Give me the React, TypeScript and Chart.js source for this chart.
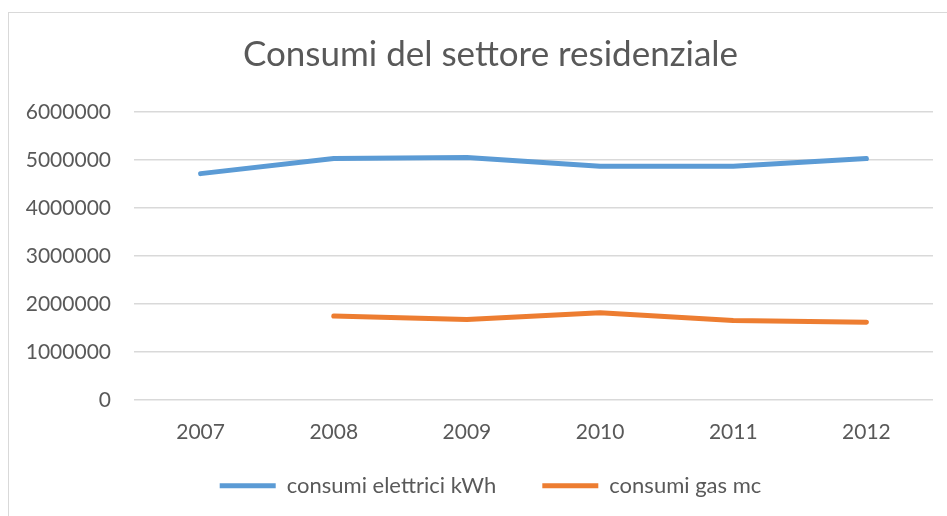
import React, { useEffect, useRef } from "react";
import { Chart, registerables } from "chart.js";

Chart.register(...registerables);

const years = ["2007", "2008", "2009", "2010", "2011", "2012"];
const elettrici = [4715000, 5030000, 5050000, 4870000, 4870000, 5030000];
const gas = [null, 1745000, 1675000, 1815000, 1655000, 1615000];
const yTicksMax = 6000000;
const yStep = 1000000;

const FONT = "Lato, 'Noto Sans', sans-serif";
const TEXT = "#595959";
const LEGEND_PAD = 46;
const LEGEND_CENTER_Y = 475;

const legendShift = {
  id: "legendShift",
  afterLayout(chart: any) {
    const L = chart.legend;
    if (!L) return;
    const fs = L.options.labels.font?.size || 22;
    const itemH = Math.max(fs * 1.2, 5);
    const h = L.height;
    L.top = LEGEND_CENTER_Y - LEGEND_PAD - itemH / 2;
    L.bottom = L.top + h;
  },
};

export default function App() {
  const ref = useRef<HTMLCanvasElement | null>(null);
  useEffect(() => {
    const ctx = ref.current!;
    const chart = new Chart(ctx, {
      type: "line",
      data: {
        labels: years,
        datasets: [
          {
            label: "consumi elettrici kWh",
            data: elettrici,
            borderColor: "#5B9BD5",
            backgroundColor: "#5B9BD5",
            borderWidth: 5,
            borderCapStyle: "round",
            borderJoinStyle: "round",
            pointRadius: 0,
            pointStyle: "line",
            tension: 0,
          },
          {
            label: "consumi gas mc",
            data: gas,
            borderColor: "#ED7D31",
            backgroundColor: "#ED7D31",
            borderWidth: 5,
            borderCapStyle: "round",
            borderJoinStyle: "round",
            pointRadius: 0,
            pointStyle: "line",
            tension: 0,
          },
        ],
      },
      plugins: [legendShift],
      options: {
        responsive: false,
        animation: false,
        layout: { padding: { left: 0, right: 0, top: 13, bottom: 0 } },
        plugins: {
          title: {
            display: true,
            text: "Consumi del settore residenziale",
            color: TEXT,
            font: { family: FONT, size: 35, weight: "normal" },
            padding: { top: 8, bottom: 36 },
          },
          legend: {
            position: "bottom",
            labels: {
              color: TEXT,
              font: { family: FONT, size: 22 },
              usePointStyle: true,
              pointStyle: "line",
              pointStyleWidth: 56,
              boxHeight: 5,
              padding: LEGEND_PAD,
            },
          },
          tooltip: { enabled: false },
        },
        scales: {
          x: {
            offset: true,
            grid: { display: false, drawTicks: false },
            border: { display: false },
            ticks: { color: TEXT, font: { family: FONT, size: 21 }, padding: 20 },
          },
          y: {
            min: 0,
            max: yTicksMax,
            afterFit: (s: any) => {
              s.width = 125;
            },
            grid: { color: "#d9d9d9", lineWidth: 1.5, drawTicks: false },
            border: { display: false },
            ticks: {
              stepSize: yStep,
              color: TEXT,
              font: { family: FONT, size: 21 },
              padding: 23,
              callback: (v: any) => String(v),
            },
          },
          ySpacer: {
            type: "linear",
            position: "right",
            display: true,
            afterFit: (s: any) => {
              s.width = 39;
            },
            grid: { display: false, drawTicks: false },
            border: { display: false },
            ticks: { display: false },
          },
        },
      },
    } as any);
    return () => chart.destroy();
  }, []);
  return (
    <div
      style={{
        position: "fixed",
        left: 8,
        top: 12,
        width: 963,
        height: 530,
        borderLeft: "1px solid #d9d9d9",
        borderTop: "1px solid #d9d9d9",
        background: "#fff",
      }}
    >
      <canvas ref={ref} width={963} height={530} style={{ display: "block" }} />
    </div>
  );
}
